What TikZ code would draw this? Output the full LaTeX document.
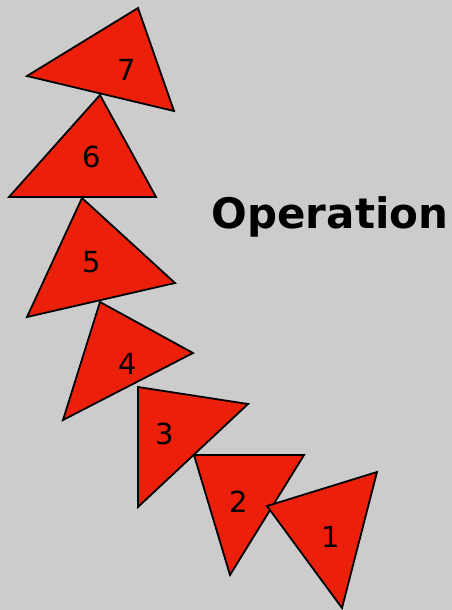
\documentclass[tikz,border=0pt]{standalone}
\usepackage{fontspec}
\setmainfont{DejaVu Sans}
\definecolor{bg}{RGB}{204,204,204}
\definecolor{tri}{RGB}{236,32,10}
\tikzset{
  tribox/.style={fill=tri,draw=black,line width=1.8pt,line join=miter},
  numlabel/.style={font=\fontsize{29}{29}\selectfont,inner sep=0pt,text=black},
}
\begin{document}
\begin{tikzpicture}[x=1pt,y=-1pt]
\fill[bg] (0,0) rectangle (452,610);
\useasboundingbox (0,0) rectangle (452,610);
% triangles
\draw[tribox] (138,8) -- (27,76) -- (174,111) -- cycle;
\draw[tribox] (100,95) -- (9,197) -- (156,197) -- cycle;
\draw[tribox] (82,198) -- (175,283) -- (27,317) -- cycle;
\draw[tribox] (100,302) -- (193,353) -- (63,420) -- cycle;
\draw[tribox] (138,387) -- (248,404) -- (138,507) -- cycle;
\draw[tribox] (194,455) -- (304,455) -- (230,575) -- cycle;
\draw[tribox] (267,506) -- (377,472) -- (342,608) -- cycle;
% labels
\node[numlabel] (l7) at (127,70) {7};
\node[numlabel] (l6) at (92,157) {6};
\node[numlabel] (l5) at (92,262) {5};
\node[numlabel] (l4) at (128,364) {4};
\node[numlabel] (l3) at (165,434) {3};
\node[numlabel] (l2) at (239,502) {2};
\node[numlabel] (l1) at (331,537) {1};
\node[font=\fontsize{42}{42}\selectfont\bfseries,inner sep=0pt] (op) at (330,217) {Operation};
\end{tikzpicture}
\end{document}
